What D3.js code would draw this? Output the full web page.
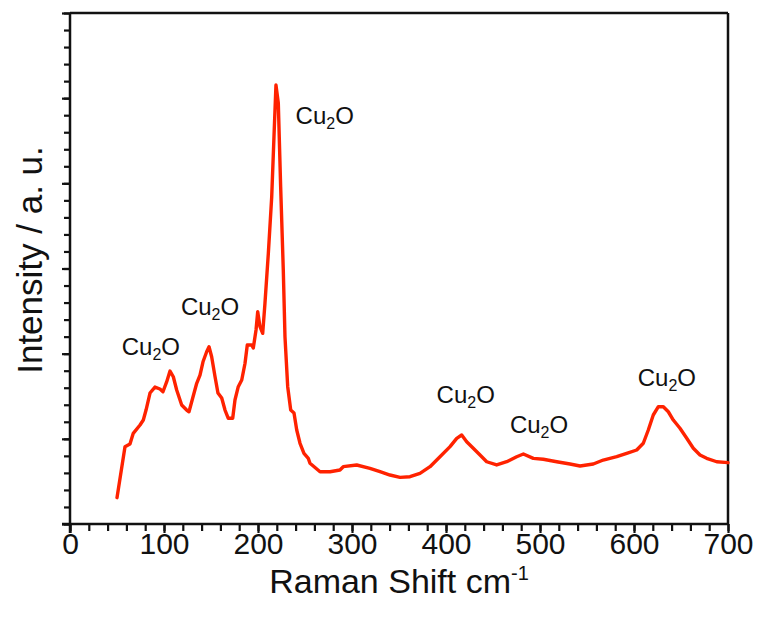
<!DOCTYPE html>
<html>
<head>
<meta charset="utf-8">
<script src="https://cdn.jsdelivr.net/npm/d3@7"></script>
<style>
  html, body { margin: 0; padding: 0; background: #fff; }
  svg { display: block; font-family: "Liberation Sans", Arial, sans-serif; }
</style>
</head>
<body>
<svg id="chart" width="758" height="621"></svg>
<script>
// ---- data ----
const ramanShift = [50,58.5,63.8,67.3,74.5,78,80.9,85.1,90.4,95.7,98.9,102.9,106.4,109.9,113.5,118.8,124.1,126.6,130.9,134.8,138.3,141.5,145.4,147.9,150.7,154.3,157.4,161.4,164.9,168.4,173.1,175.5,179,182.7,186.2,188.6,193.3,195,197.9,199.7,202.1,205,207.4,211,214.6,217,219.1,221.6,224.1,226.9,228.7,231.6,234.8,238.3,241.2,244.7,248.9,253.5,255.3,266,276.6,287.2,290.7,305,319.1,329.8,340.4,351.1,361.7,372.3,383,393.6,404.3,411.4,416.7,422,429,436.2,443.3,453.9,464.6,475.2,482.3,492.9,503.5,517.8,531.9,542.6,556.7,567.3,581.6,592.2,602.9,609.9,615.2,620.5,625.9,631.2,636.5,641.8,648.9,656.1,663.1,670.2,677.3,688,700];
const intensity = [0.309,0.908,0.939,1.065,1.162,1.221,1.338,1.538,1.608,1.585,1.553,1.671,1.796,1.729,1.573,1.397,1.338,1.318,1.494,1.652,1.749,1.905,2.023,2.081,1.964,1.729,1.538,1.479,1.338,1.241,1.241,1.456,1.612,1.691,1.887,2.102,2.102,2.066,2.278,2.493,2.317,2.239,2.591,3.178,3.843,4.547,5.154,4.943,3.960,2.982,2.199,1.612,1.338,1.303,1.104,0.948,0.830,0.771,0.713,0.614,0.614,0.634,0.673,0.693,0.654,0.614,0.575,0.548,0.555,0.595,0.673,0.790,0.908,1.006,1.045,0.966,0.889,0.810,0.731,0.693,0.731,0.790,0.822,0.771,0.760,0.731,0.704,0.681,0.704,0.751,0.790,0.830,0.869,0.948,1.104,1.280,1.377,1.377,1.318,1.221,1.124,1.006,0.889,0.810,0.771,0.731,0.720];
const xTickValues = [0,100,200,300,400,500,600,700];
const peakLabelShift = [55, 118, 240, 390, 468, 604];
const peakLabelLevel = [1.98, 2.45, 4.7, 1.42, 1.07, 1.62];
const peakLabelBase = "Cu";
const peakLabelSub = "2";
const peakLabelEnd = "O";
const xTitle = "Raman Shift cm";
const xTitleSup = "-1";
const yTitle = "Intensity / a. u.";

// ---- layout ----
const W = 758, H = 621;
const m = {left: 70, top: 13, right: 30, bottom: 97};
const iw = W - m.left - m.right, ih = H - m.top - m.bottom;
const svg = d3.select("#chart");
const g = svg.append("g").attr("transform", `translate(${m.left},${m.top})`);

const x = d3.scaleLinear().domain([0, 700]).range([0, iw]);
const y = d3.scaleLinear().domain([0, 6]).range([ih, 0]);

// frame (top & right)
g.append("line").attr("x1", 0).attr("x2", iw).attr("y1", 0).attr("y2", 0)
  .attr("stroke", "#111").attr("stroke-width", 2.5);
g.append("line").attr("x1", iw).attr("x2", iw).attr("y1", 0).attr("y2", ih)
  .attr("stroke", "#111").attr("stroke-width", 2.5);

// x axis: minor
const xMinor = d3.range(0, 701, 20);
g.append("g").attr("transform", `translate(0,${ih})`)
  .call(d3.axisBottom(x).tickValues(xMinor).tickSize(7).tickFormat(""))
  .call(a => a.select(".domain").remove())
  .call(a => a.selectAll("line").attr("stroke", "#111").attr("stroke-width", 2.2));
// x axis: major
g.append("g").attr("transform", `translate(0,${ih})`)
  .call(d3.axisBottom(x).tickValues(xTickValues).tickSize(9).tickPadding(0).tickFormat(d3.format("d")))
  .call(a => a.select(".domain").attr("stroke", "#111").attr("stroke-width", 2.5).attr("d", `M-8,0H${iw}`))
  .call(a => a.selectAll("line").attr("stroke", "#111").attr("stroke-width", 2.2))
  .call(a => a.selectAll("text").attr("fill", "#111").style("font-size", "30px")
      .style("font-family", "'Liberation Sans', Arial, sans-serif"));

// y axis: minor
const yMinor = d3.range(0, 31).map(i => i * 0.2);
g.append("g")
  .call(d3.axisLeft(y).tickValues(yMinor).tickSize(6).tickFormat(""))
  .call(a => a.select(".domain").remove())
  .call(a => a.selectAll("line").attr("stroke", "#111").attr("stroke-width", 2.2));
// y axis: major
g.append("g")
  .call(d3.axisLeft(y).tickValues(d3.range(0, 7)).tickSize(8).tickFormat(""))
  .call(a => a.select(".domain").attr("stroke", "#111").attr("stroke-width", 2.5).attr("d", `M0,${ih + 9}V0`))
  .call(a => a.selectAll("line").attr("stroke", "#111").attr("stroke-width", 2.2));

// spectrum
const pts = ramanShift.map((s, i) => [s, intensity[i]]);
g.append("path").datum(pts)
  .attr("fill", "none").attr("stroke", "#ff2200").attr("stroke-width", 3.4)
  .attr("stroke-linejoin", "round").attr("stroke-linecap", "round")
  .attr("d", d3.line().x(d => x(d[0])).y(d => y(d[1])));

// peak labels
peakLabelShift.forEach((s, i) => {
  const t = g.append("text").attr("x", x(s)).attr("y", y(peakLabelLevel[i]))
    .attr("fill", "#111").style("font-size", "24px");
  t.append("tspan").text(peakLabelBase);
  t.append("tspan").attr("dy", 5).style("font-size", "16px").text(peakLabelSub);
  t.append("tspan").attr("dy", -5).text(peakLabelEnd);
});

// axis titles
const xt = svg.append("text").attr("x", m.left + iw / 2).attr("y", 593)
  .attr("text-anchor", "middle").attr("fill", "#111").style("font-size", "34px");
xt.append("tspan").text(xTitle);
xt.append("tspan").attr("dy", -13).style("font-size", "20px").text(xTitleSup);

svg.append("text").attr("transform", `translate(42,${260}) rotate(-90)`)
  .attr("text-anchor", "middle").attr("fill", "#111").style("font-size", "35px")
  .text(yTitle);
</script>
</body>
</html>
